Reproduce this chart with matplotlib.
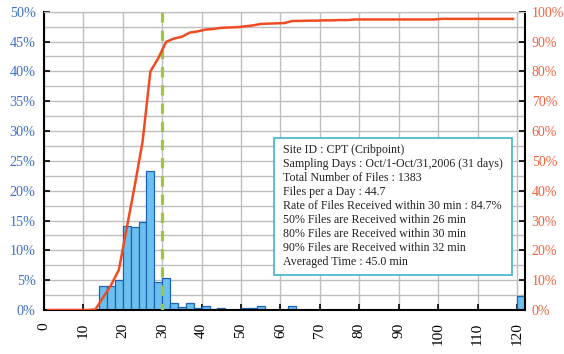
import numpy as np
import matplotlib.pyplot as plt
from matplotlib.patches import Rectangle

plt.rcParams['font.family'] = ['Liberation Serif', 'DejaVu Serif']

# histogram: 2-minute categories 0,2,...,120 (last one = overflow)
bin_start = list(range(0, 122, 2))
hist_pct = [0, 0, 0, 0, 0, 0, 0.2, 4.0, 4.0, 5.1,
            14.05, 13.9, 14.8, 23.3, 4.7, 5.3, 1.12, 0.56, 1.12, 0.4,
            0.67, 0.15, 0.28, 0.07, 0.07, 0.28, 0.28, 0.67, 0.07, 0.07,
            0.07, 0.6, 0, 0.07, 0, 0.07, 0, 0.07, 0, 0.07,
            0, 0, 0, 0, 0, 0, 0, 0, 0, 0,
            0.07, 0, 0, 0, 0, 0, 0, 0, 0, 0,
            2.4]

# cumulative rate (right axis), one value per category 0..118
cum_pct = [0, 0, 0, 0, 0, 0, 0.15, 4.2, 8.3, 13.5,
           27.5, 41.5, 56.3, 80.0, 84.4, 89.9, 91.0, 91.6, 93.0, 93.4,
           94.0, 94.2, 94.6, 94.7, 94.8, 95.1, 95.4, 95.9, 96.0, 96.1,
           96.2, 96.9, 96.9, 97.0, 97.0, 97.1, 97.1, 97.2, 97.2, 97.4,
           97.4, 97.4, 97.4, 97.4, 97.4, 97.4, 97.4, 97.4, 97.4, 97.4,
           97.6, 97.6, 97.6, 97.6, 97.6, 97.6, 97.6, 97.6, 97.6, 97.6]

x_ticks = list(range(0, 121, 10))
left_ticks = list(range(0, 51, 5))
right_ticks = list(range(0, 101, 10))
limit_min = 30

info_lines = [
    "Site ID : CPT (Cribpoint)",
    "Sampling Days : Oct/1-Oct/31,2006 (31 days)",
    "Total Number of Files : 1383",
    "Files per a Day : 44.7",
    "Rate of Files Received within 30 min : 84.7%",
    "50% Files are Received within 26 min",
    "80% Files are Received within 30 min",
    "90% Files are Received within 32 min",
    "Averaged Time : 45.0 min",
]

W, H = 564, 354
fig = plt.figure(figsize=(W / 100, H / 100), dpi=100)
ax = fig.add_axes([44 / W, 44 / H, 480.8 / W, 298.3 / H])

grid_c = '#BEBEBE'
ax.set_xlim(0, 122)
ax.set_ylim(0, 50)
ax.set_xticks(x_ticks)
ax.set_xticklabels([str(t) for t in x_ticks], rotation=90, fontsize=11)
ax.set_yticks(left_ticks)
ax.set_yticklabels([f"{t}%" for t in left_ticks], fontsize=10.2, color='#3F6FC4')
ax.set_yticks(np.arange(2.5, 50, 5), minor=True)
ax.tick_params(axis='y', which='minor', length=0)
ax.tick_params(axis='both', which='major', direction='in', length=4, width=1.2)
ax.tick_params(axis='x', pad=9)
ax.tick_params(axis='y', pad=6)
ax.grid(True, which='both', color=grid_c, lw=1.0, zorder=0)
ax.set_axisbelow(True)

ax.bar(bin_start, hist_pct, width=2, align='edge', color='#6CC0EE',
       edgecolor='#1F63B5', linewidth=0.9, zorder=2)

for s in ['left', 'bottom']:
    ax.spines[s].set_linewidth(1.5)
ax.spines['top'].set_color(grid_c)
ax.spines['right'].set_visible(False)

ax2 = ax.twinx()
ax2.set_ylim(0, 100)
ax2.set_yticks(right_ticks)
ax2.set_yticklabels([f"{t}%" for t in right_ticks], fontsize=10, color='#F0603A')
ax2.tick_params(axis='y', direction='in', length=4, width=1.2, pad=5)
ax2.spines['right'].set_linewidth(1.5)
ax2.spines['top'].set_color(grid_c)
ax2.spines['left'].set_visible(False)
ax2.spines['bottom'].set_visible(False)

ax2.plot([limit_min, limit_min], [100, 0], color='#9DC83C', lw=2.3,
         dashes=(3.2, 2.5), zorder=2)
centers = [b + 1 for b in bin_start[:len(cum_pct)]]
ax2.plot(centers, cum_pct, color='#F04B23', lw=1.8, zorder=3)

# info box
bx0, bx1, by0, by1 = 273.5, 511.5, 137.5, 275
fig.patches.append(Rectangle((bx0 / W, 1 - by1 / H), (bx1 - bx0) / W, (by1 - by0) / H,
                             transform=fig.transFigure, facecolor='white',
                             edgecolor='#4FB9CE', lw=1.3, zorder=5))
for i, line in enumerate(info_lines):
    fig.text(283 / W, 1 - (150 + i * 13.96) / H, line, fontsize=8.6,
             color='#222222', va='center', ha='left', zorder=6)

fig.savefig('out.png', dpi=100)
